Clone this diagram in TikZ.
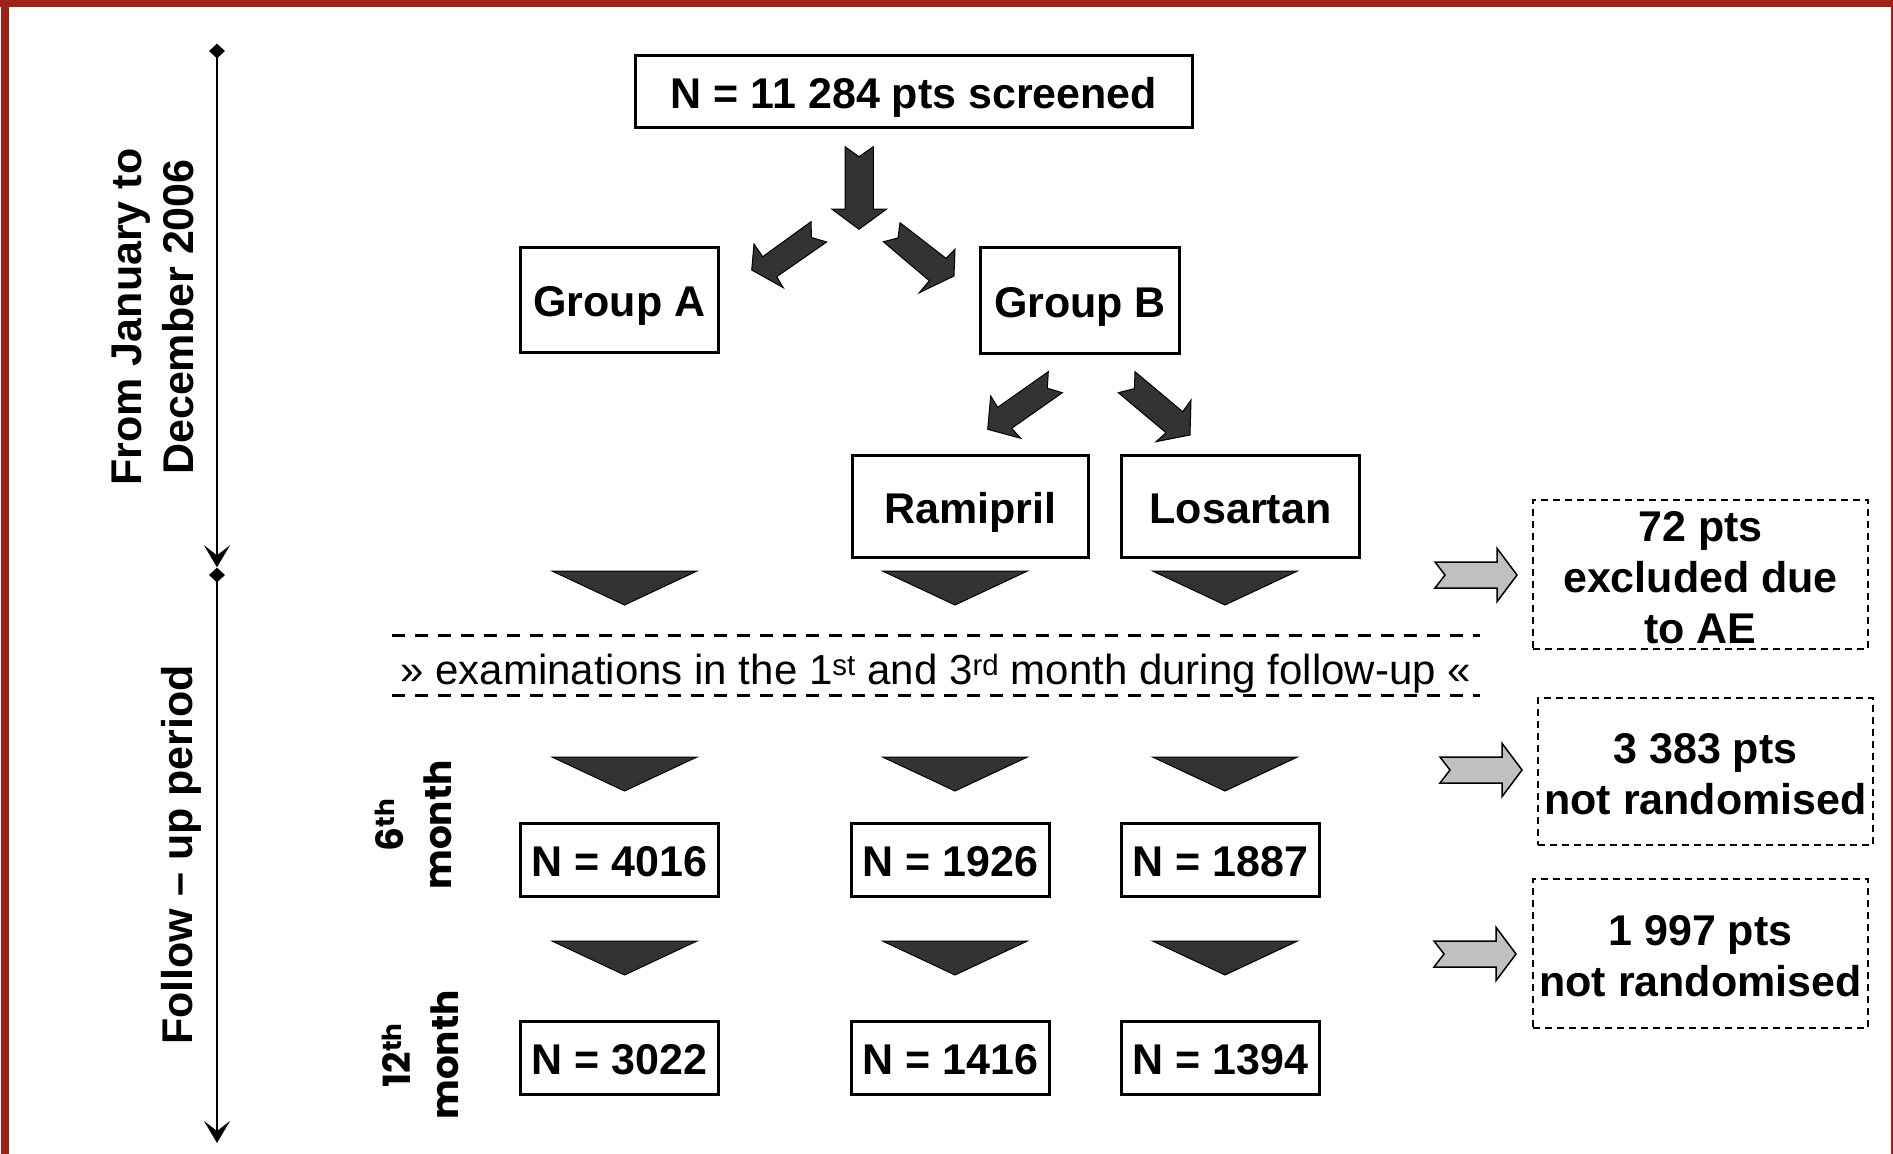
\documentclass[tikz,border=0pt]{standalone}
\usepackage{fontspec}
\setmainfont{Liberation Sans}
\newfontfamily\geofont{Poppins}
\usetikzlibrary{shapes.geometric,arrows.meta}
\definecolor{framered}{RGB}{158,34,24}
\definecolor{darkfill}{RGB}{51,51,51}
\definecolor{grayfill}{RGB}{192,192,192}
\newcommand{\upstrut}[1]{\rule{0pt}{#1}}
\begin{document}
\begin{tikzpicture}[x=1pt,y=-1pt,
  box/.style={draw=black, line width=3pt, inner sep=0pt, align=center,
    text height=33pt, text depth=0pt,
    font=\fontsize{43}{51}\selectfont\bfseries},
  dbox/.style={draw=black, line width=2pt, dash pattern=on 7pt off 5pt, inner sep=0pt,
    align=center, font=\fontsize{43}{51}\selectfont\bfseries},
  hdash/.style={draw=black, line width=3pt, dash pattern=on 13pt off 10pt},
  darkarrow/.style={fill=darkfill, draw=black, line width=1pt, line join=miter},
  tri/.style={fill=darkfill, draw=black, line width=1pt},
  grayarrow/.style={fill=grayfill, draw=black, line width=1.5pt, line join=miter},
  timeline/.style={draw=black, line width=2.5pt},
  tdiamond/.style={diamond, fill=black, inner sep=0pt, minimum width=16pt, minimum height=15pt},
  sidelabel/.style={rotate=90, align=center, font=\fontsize{43}{52}\selectfont\bfseries},
  monthlabel/.style={rotate=90, align=center, font=\geofont\fontsize{37.5}{48}\selectfont\bfseries}
]
\useasboundingbox (0,0) rectangle (1893,1154);
\fill[white] (0,0) rectangle (1893,1154);
% frame
\fill[framered] (0.5,0) rectangle (9,1154);
\fill[framered] (0,0) rectangle (1893,7);
\fill[framered] (1890.5,0) rectangle (1893,1154);

% timeline
\node[tdiamond] (d1) at (217,51) {};
\node[tdiamond] (d2) at (217,575) {};
\coordinate (tend) at (217,1143);
\draw[timeline, -{Stealth[length=22pt,width=26pt,inset=10pt]}] (d1.center) -- (d2.north);
\draw[timeline, -{Stealth[length=22pt,width=26pt,inset=10pt]}] (d2.center) -- (tend);
\node[sidelabel] (lab1) at (153,317) {From January to\\December 2006};
\node[sidelabel] (lab2) at (181,855) {Follow – up period};
\node[monthlabel] (m6) at (413,825) {6\textsuperscript{th}\\month};
\node[monthlabel] (m12) at (420,1055) {12\textsuperscript{th}\\month};

% boxes
\node[box, minimum width=557pt, minimum height=72pt] (scr) at (914,91.5) {N = 11 284 pts screened};
\node[box, minimum width=198pt, minimum height=105pt] (ga) at (619.5,300) {Group A};
\node[box, minimum width=199pt, minimum height=106pt] (gb) at (1080,300.5) {Group B};
\node[box, minimum width=236pt, minimum height=102pt] (ram) at (970.5,506.5) {Ramipril};
\node[box, minimum width=238pt, minimum height=102pt] (los) at (1240.5,506.5) {Losartan};
\node[box, minimum width=198pt, minimum height=73pt] (a6) at (619.5,860) {N = 4016};
\node[box, minimum width=198pt, minimum height=73pt] (r6) at (950.5,860) {N = 1926};
\node[box, minimum width=198pt, minimum height=73pt] (l6) at (1220.5,860) {N = 1887};
\node[box, minimum width=198pt, minimum height=73pt] (a12) at (619.5,1058) {N = 3022};
\node[box, minimum width=198pt, minimum height=73pt] (r12) at (950.5,1058) {N = 1416};
\node[box, minimum width=198pt, minimum height=73pt] (l12) at (1220.5,1058) {N = 1394};

\node[dbox, minimum width=335pt, minimum height=149pt] (ex1) at (1700.5,574.5) {\upstrut{37pt}72 pts\\excluded due\\to AE};
\node[dbox, minimum width=335pt, minimum height=147pt] (ex2) at (1705.5,771.5) {\upstrut{36pt}3 383 pts\\not randomised};
\node[dbox, minimum width=335pt, minimum height=149pt] (ex3) at (1700.5,953.5) {\upstrut{36pt}1 997 pts\\not randomised};

% exam line
\draw[hdash] (392,635) -- (1480,635);
\draw[hdash] (392,695) -- (1480,695);
\node[anchor=base, inner sep=0pt, font=\fontsize{42}{50}\selectfont] (exam) at (935.7,684.5)
  {» examinations in the 1\textsuperscript{st} and 3\textsuperscript{rd} month during follow-up «};

% dark block arrows
\filldraw[darkarrow] (845,146.7) -- (859,156.7) -- (873.3,146.7) -- (873.3,209) -- (886.7,209) -- (859,229.3) -- (831.7,209) -- (845,209) -- cycle;
\filldraw[darkarrow] (811,221.7) -- (811.5,237.5) -- (826.7,242) -- (776.7,276.7) -- (783.3,287.7) -- (751.7,270) -- (754,244) -- (762.7,256.7) -- cycle;
\filldraw[darkarrow] (900,222.7) -- (898,238) -- (883.3,241.7) -- (929.3,280.7) -- (919.3,292.7) -- (954,276) -- (955,249.3) -- (946,258.3) -- cycle;
\filldraw[darkarrow] (1048.3,371.7) -- (1047.3,388.2) -- (1062.3,392.7) -- (1011.7,428.3) -- (1020.7,438.3) -- (987.7,429.3) -- (990.7,396) -- (997.7,407.3) -- cycle;
\filldraw[darkarrow] (1135,371.7) -- (1134.4,388.6) -- (1118.3,392.7) -- (1166,432.7) -- (1156,441.7) -- (1190,435) -- (1191,400) -- (1182.7,411.7) -- cycle;

% triangles
\foreach \cx in {624.5,955,1225}{
  \foreach \yt in {571,757,941}{
    \filldraw[tri] ({\cx-72.5},\yt) -- ({\cx+72.5},\yt) -- (\cx,{\yt+34}) -- cycle;
  }
}

% gray arrows
\foreach \tl/\tp/\cy in {1435/1517/575, 1440/1522/770, 1434/1516/954}{
  \filldraw[grayarrow] (\tl,{\cy-13}) -- ({\tp-20},{\cy-13}) -- ({\tp-20},{\cy-26.7}) -- (\tp,\cy)
    -- ({\tp-20},{\cy+26.7}) -- ({\tp-20},{\cy+13}) -- (\tl,{\cy+13}) -- ({\tl+10},\cy) -- cycle;
}
\end{tikzpicture}
\end{document}
